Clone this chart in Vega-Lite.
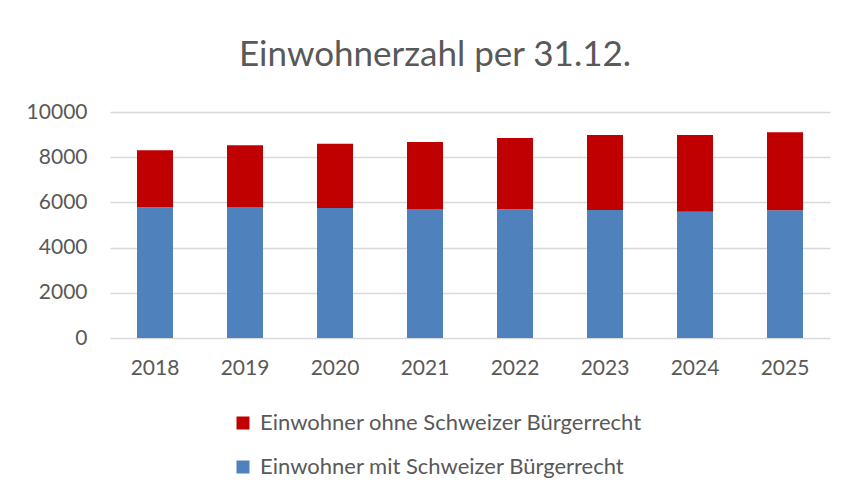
{
  "$schema": "https://vega.github.io/schema/vega-lite/v6.json",
  "autosize": "none",
  "width": 720,
  "height": 226,
  "padding": {"left": 110, "top": 112, "right": 17, "bottom": 152},
  "background": "white",
  "title": {
    "text": "Einwohnerzahl per 31.12.",
    "font": "Lato",
    "fontSize": 35,
    "fontWeight": "normal",
    "color": "#595959",
    "anchor": "middle",
    "dx": -35,
    "baseline": "alphabetic",
    "offset": 0
  },
  "data": {
    "values": [
      {"Jahr": "2018", "Gruppe": "Einwohner mit Schweizer Bürgerrecht", "Anzahl": 5780},
      {"Jahr": "2018", "Gruppe": "Einwohner ohne Schweizer Bürgerrecht", "Anzahl": 2525},
      {"Jahr": "2019", "Gruppe": "Einwohner mit Schweizer Bürgerrecht", "Anzahl": 5800},
      {"Jahr": "2019", "Gruppe": "Einwohner ohne Schweizer Bürgerrecht", "Anzahl": 2727},
      {"Jahr": "2020", "Gruppe": "Einwohner mit Schweizer Bürgerrecht", "Anzahl": 5750},
      {"Jahr": "2020", "Gruppe": "Einwohner ohne Schweizer Bürgerrecht", "Anzahl": 2850},
      {"Jahr": "2021", "Gruppe": "Einwohner mit Schweizer Bürgerrecht", "Anzahl": 5710},
      {"Jahr": "2021", "Gruppe": "Einwohner ohne Schweizer Bürgerrecht", "Anzahl": 2965},
      {"Jahr": "2022", "Gruppe": "Einwohner mit Schweizer Bürgerrecht", "Anzahl": 5695},
      {"Jahr": "2022", "Gruppe": "Einwohner ohne Schweizer Bürgerrecht", "Anzahl": 3155},
      {"Jahr": "2023", "Gruppe": "Einwohner mit Schweizer Bürgerrecht", "Anzahl": 5665},
      {"Jahr": "2023", "Gruppe": "Einwohner ohne Schweizer Bürgerrecht", "Anzahl": 3320},
      {"Jahr": "2024", "Gruppe": "Einwohner mit Schweizer Bürgerrecht", "Anzahl": 5590},
      {"Jahr": "2024", "Gruppe": "Einwohner ohne Schweizer Bürgerrecht", "Anzahl": 3395},
      {"Jahr": "2025", "Gruppe": "Einwohner mit Schweizer Bürgerrecht", "Anzahl": 5650},
      {"Jahr": "2025", "Gruppe": "Einwohner ohne Schweizer Bürgerrecht", "Anzahl": 3450}
    ]
  },
  "mark": {"type": "bar"},
  "encoding": {
    "x": {
      "field": "Jahr",
      "type": "ordinal",
      "scale": {"paddingInner": 0.6, "paddingOuter": 0.3},
      "axis": {
        "title": null,
        "labelAngle": 0,
        "domain": false,
        "ticks": false,
        "labelPadding": 19,
        "labelFont": "Lato",
        "labelFontSize": 21,
        "labelColor": "#595959"
      }
    },
    "y": {
      "field": "Anzahl",
      "type": "quantitative",
      "stack": "zero",
      "scale": {"domain": [0, 10000], "nice": false},
      "axis": {
        "title": null,
        "values": [0, 2000, 4000, 6000, 8000, 10000],
        "format": "d",
        "domain": false,
        "ticks": false,
        "labelPadding": 23,
        "labelFont": "Lato",
        "labelFontSize": 21,
        "labelColor": "#595959",
        "gridColor": "#d9d9d9",
        "gridWidth": 1.5
      }
    },
    "color": {
      "field": "Gruppe",
      "type": "nominal",
      "scale": {
        "domain": ["Einwohner ohne Schweizer Bürgerrecht", "Einwohner mit Schweizer Bürgerrecht"],
        "range": ["#C00000", "#4F81BD"]
      },
      "legend": {
        "title": null,
        "orient": "none",
        "legendX": 122,
        "legendY": 300,
        "direction": "vertical",
        "symbolType": "square",
        "symbolSize": 169,
        "symbolStrokeWidth": 0,
        "labelFont": "Lato",
        "labelFontSize": 22,
        "labelColor": "#595959",
        "labelOffset": 6,
        "rowPadding": 22,
        "labelLimit": 500
      }
    },
    "order": {"field": "Gruppe", "sort": "ascending"}
  },
  "config": {
    "view": {"stroke": null}
  }
}
